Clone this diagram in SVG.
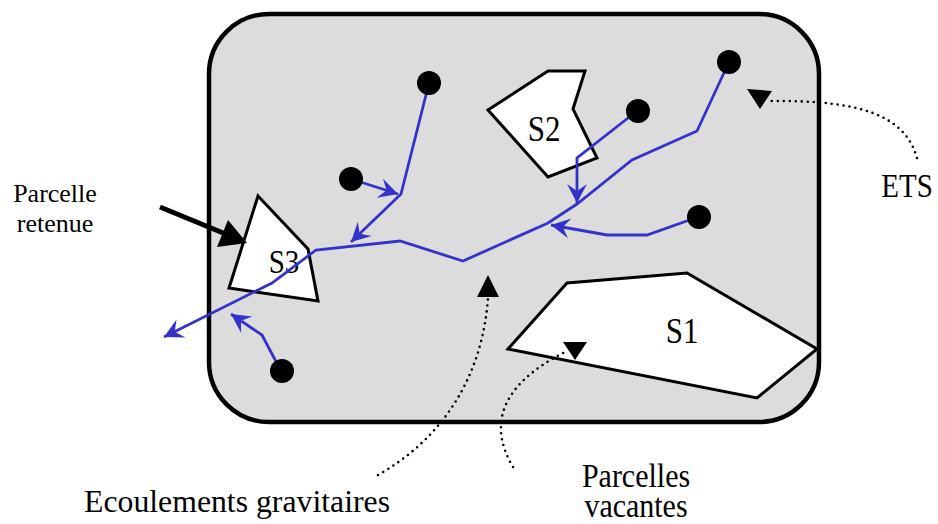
<svg xmlns="http://www.w3.org/2000/svg" width="938" height="524" viewBox="0 0 938 524">
<style>
text{font-family:'Liberation Serif','Times New Roman',Times,serif;fill:#000;}
.flow{fill:none;stroke:#3333cc;stroke-width:2.8;stroke-linejoin:miter;}
.dot{fill:#000;}
.dotted{fill:none;stroke:#000;stroke-width:2.6;stroke-dasharray:0 6;stroke-linecap:round;}
.parcel{fill:#fff;stroke:#000;stroke-width:3;stroke-linejoin:miter;}
</style>
<defs>
<marker id="blueArrow" viewBox="-20 -12 22 24" refX="0" refY="0" markerWidth="22" markerHeight="24" markerUnits="userSpaceOnUse" orient="auto">
<path d="M0,0 L-19,-10 L-12,0 L-19,10 Z" fill="#3333cc"/>
</marker>
</defs>
<g id="zone">
<rect x="209" y="14" width="610" height="408" rx="60" ry="60" fill="#dcdcdc" stroke="#000" stroke-width="4.5"/>
</g>
<g id="S1">
<polygon class="parcel" points="508,349 567,283 687,273 817,349 757,398"/>
<text transform="translate(682,343) scale(1,1.15)" font-size="31" text-anchor="middle">S1</text>
</g>
<g id="S2">
<polygon class="parcel" points="488,110 548,71 585,71 573,109 597,158 548,177"/>
<text transform="translate(544,141) scale(1,1.15)" font-size="31" text-anchor="middle">S2</text>
</g>
<g id="S3">
<polygon class="parcel" points="258,196 308,249 318,301 229,288" stroke-width="4.5"/>
<text transform="translate(284,273) scale(1,1.15)" font-size="29" text-anchor="middle">S3</text>
</g>
<g id="connectors">
<path class="flow" d="M729,62 L697,131 L632,160 L577,204 L548,223 L463,261 L400,241 L316,250 L272,283 L164,337" marker-end="url(#blueArrow)"/>
<path class="flow" d="M637,111 L577,158 L577,203" marker-end="url(#blueArrow)"/>
<path class="flow" d="M698,217 L647,235 L607,235 L551,225" marker-end="url(#blueArrow)"/>
<path class="flow" d="M429,83 L401,194 L351,242" marker-end="url(#blueArrow)"/>
<path class="flow" d="M351,179 L398,194" marker-end="url(#blueArrow)"/>
<path class="flow" d="M281,371 L262,335 L231,314" marker-end="url(#blueArrow)"/>
<path d="M160,207 L228,235" fill="none" stroke="#000" stroke-width="5"/>
<polygon points="247,243 228,220 217,247" fill="#000"/>
<path class="dotted" d="M917,158 C905,115 860,100 770,101"/>
<polygon points="747,89 772,91 760,109" fill="#000"/>
<path class="dotted" d="M378,475 C440,440 482,380 488,298"/>
<polygon points="477,297 499,297 488,275" fill="#000"/>
<path class="dotted" d="M513,467 C488,425 500,385 565,352"/>
<polygon points="563,342 587,342 575,360" fill="#000"/>
</g>
<g id="sources">
<circle class="dot" cx="429" cy="83" r="12"/>
<circle class="dot" cx="351" cy="179" r="12"/>
<circle class="dot" cx="638" cy="111" r="12"/>
<circle class="dot" cx="729" cy="62" r="12"/>
<circle class="dot" cx="699" cy="217" r="12"/>
<circle class="dot" cx="282" cy="371" r="12"/>
</g>
<g id="labels">
<text x="55" y="202" font-size="26" text-anchor="middle">Parcelle</text>
<text x="55" y="232" font-size="26" text-anchor="middle">retenue</text>
<text transform="translate(907,197) scale(1,1.15)" font-size="29" text-anchor="middle">ETS</text>
<text transform="translate(237,512) scale(1,1.02)" font-size="30" text-anchor="middle" textLength="306" lengthAdjust="spacingAndGlyphs">Ecoulements gravitaires</text>
<text transform="translate(636,487) scale(1,1.1)" font-size="30" text-anchor="middle">Parcelles</text>
<text transform="translate(636,517) scale(1,1.1)" font-size="30" text-anchor="middle">vacantes</text>
</g>
</svg>
